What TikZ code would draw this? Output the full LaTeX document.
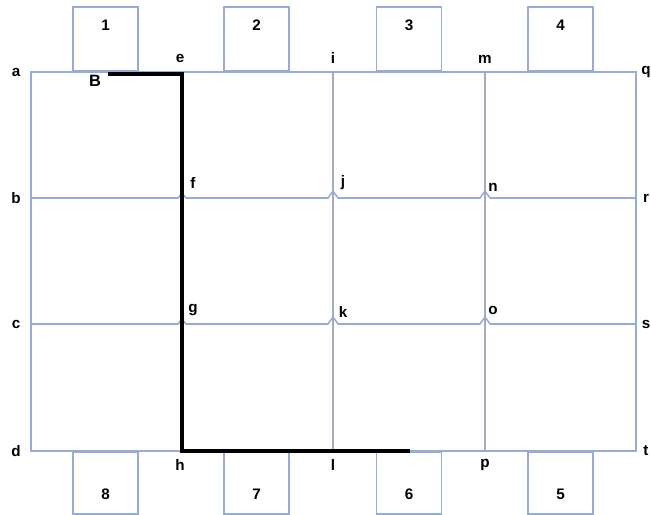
\documentclass[tikz,border=0pt]{standalone}
\usepackage{fontspec}
\setmainfont{Liberation Sans}
\usepackage{xcolor}
\definecolor{gridblue}{RGB}{150,172,214}
\definecolor{gridgrey}{RGB}{165,172,186}
\usetikzlibrary{positioning}

\begin{document}
\begin{tikzpicture}[
    x=0.03cm, y=-0.03cm,
    grid/.style={draw=gridblue, line width=1.3pt},
    inner/.style={draw=gridgrey, line width=0.9pt},
    seat/.style={rectangle, draw=gridblue, line width=1.3pt, minimum width=1.95cm, inner sep=0pt},
    lbl/.style={inner sep=0pt, font=\fontsize{13}{15}\selectfont\bfseries},
    num/.style={inner sep=0pt, font=\fontsize{13}{15}\selectfont\bfseries},
    route/.style={draw, line width=3.8pt}
  ]
    \useasboundingbox (0,0) rectangle (651,515);

    % Grid points
    \foreach \nm/\x/\y in {a/31/72, b/31/198, c/31/324, d/31/451,
                          e/182/72, f/182/198, g/182/324, h/182/451,
                          i/333/72, j/333/198, k/333/324, l/333/451,
                          m/485/72, n/485/198, o/485/324, p/485/451,
                          q/636/72, r/636/198, s/636/324, t/636/451}
      \coordinate (\nm) at (\x,\y);

    % Seats above and below
    \foreach \id/\x in {1/105.5, 2/256.5, 3/409, 4/560.5} {
      \node [seat, minimum height=1.92cm, anchor=south] (top\id) at (\x,72) {};
      \node [num, below=0.4cm of top\id.north] (topnum\id) {\id};
    }
    \foreach \id/\x in {8/105.5, 7/256.5, 6/409, 5/560.5} {
      \node [seat, minimum height=1.86cm, anchor=north] (bot\id) at (\x,451) {};
      \node [num, above=0.44cm of bot\id.south] (botnum\id) {\id};
    }

    % Inner vertical lines
    \draw [inner] (e) -- (h);
    \draw [inner] (i) -- (l);
    \draw [inner] (m) -- (p);

    % Outer frame
    \draw [grid] (a) rectangle (t);

    % Middle lines with small hops
    \foreach \y in {198, 324}
      \draw [grid] (31,\y) -- (178,\y) -- (182,\y-5) -- (186,\y)
        -- (328,\y) -- (333,\y-7) -- (338,\y)
        -- (480,\y) -- (485,\y-7) -- (490,\y) -- (636,\y);

    % Point labels
    \foreach \nm/\x/\y in {a/16/72, b/16/198, c/16/324, d/16/451,
                          e/180/58, f/193/183, g/193/310, h/180/465,
                          i/333/58, j/343/183, k/343/312, l/333/465,
                          m/485/59, n/493/187, o/493/310, p/485/465,
                          q/646/72, r/646/198, s/646/324, t/646/451}
      \node [lbl] (lbl\nm) at (\x,\y) {\nm};

    % Route from B
    \node [lbl, font=\fontsize{14}{16}\selectfont\bfseries] (startB) at (95,81) {B};
    \coordinate (routestart) at (108,74);
    \coordinate (routeend) at (410,451);
    \draw [route] (routestart) -| (h) -- (routeend);
\end{tikzpicture}
\end{document}
